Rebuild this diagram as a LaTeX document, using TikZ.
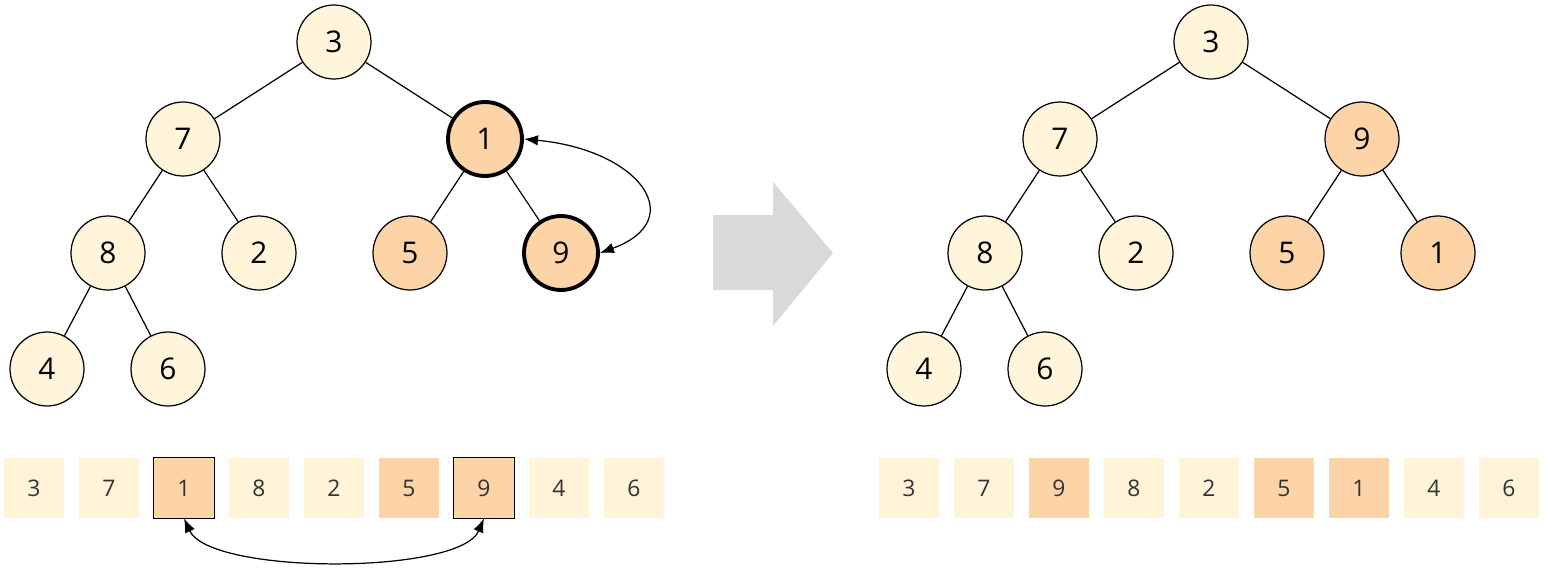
\documentclass[tikz,border=0pt]{standalone}
\usepackage{fontspec}
\setmainfont{Open Sans}
\usetikzlibrary{arrows.meta}
\definecolor{lt}{HTML}{FFF5DA}
\definecolor{org}{HTML}{FDD3A8}
\definecolor{alt}{HTML}{FFF3D8}
\begin{document}
\begin{tikzpicture}[x=0.02cm,y=-0.02cm,
 tn/.style={circle,draw=black,line width=0.7pt,minimum size=1.48cm,inner sep=0pt,font=\fontsize{17}{17}\selectfont},
 L/.style={tn,fill=lt}, O/.style={tn,fill=org}, B/.style={line width=2.2pt},
 ab/.style={minimum size=1.2cm,inner sep=0pt,font=\fontsize{13}{13}\selectfont,text=black!80},
 al/.style={ab,fill=alt}, ao/.style={ab,fill=org},
 e/.style={line width=0.7pt}]
\useasboundingbox (0,0) rectangle (1546,568);
% left tree
\node[L] (a3) at (334,42) {3};
\node[L] (a7) at (183,139) {7};
\node[O,B] (a1) at (485,139) {1};
\node[L] (a8) at (108,253) {8};
\node[L] (a2) at (259,253) {2};
\node[O] (a5) at (410,253) {5};
\node[O,B] (a9) at (561,253) {9};
\node[L] (a4) at (47,369) {4};
\node[L] (a6) at (168,369) {6};
\foreach \p/\c in {a3/a7,a3/a1,a7/a8,a7/a2,a1/a5,a1/a9,a8/a4,a8/a6} \draw[e] (\p) -- (\c);
\draw[e,{Latex[length=8pt,width=6pt]}-{Latex[length=8pt,width=6pt]}] (a1.east) .. controls (640,150) and (690,220) .. (a9.east);
% right tree
\node[L] (b3) at (1211,42) {3};
\node[L] (b7) at (1060,139) {7};
\node[O] (b9) at (1362,139) {9};
\node[L] (b8) at (985,253) {8};
\node[L] (b2) at (1136,253) {2};
\node[O] (b5) at (1287,253) {5};
\node[O] (b1) at (1438,253) {1};
\node[L] (b4) at (924,369) {4};
\node[L] (b6) at (1045,369) {6};
\foreach \p/\c in {b3/b7,b3/b9,b7/b8,b7/b2,b9/b5,b9/b1,b8/b4,b8/b6} \draw[e] (\p) -- (\c);
% big arrow
\fill[black!15] (713,215) -- (773,215) -- (773,182) -- (833,253) -- (773,326) -- (773,290) -- (713,290) -- cycle;
% arrays
\foreach \v/\s [count=\i from 0] in {3/al,7/al,1/ao,8/al,2/al,5/ao,9/ao,4/al,6/al}
  \node[\s] (l\i) at (34+75*\i,488) {\v};
\draw[e] (l2.south west) rectangle (l2.north east);
\draw[e] (l6.south west) rectangle (l6.north east);
\foreach \v/\s [count=\i from 0] in {3/al,7/al,9/ao,8/al,2/al,5/ao,1/ao,4/al,6/al}
  \node[\s] (r\i) at (909+75*\i,488) {\v};
\draw[e,{Latex[length=8pt,width=6pt]}-{Latex[length=8pt,width=6pt]}] (l2.south) .. controls (210,575) and (460,575) .. (l6.south);
\end{tikzpicture}
\end{document}
